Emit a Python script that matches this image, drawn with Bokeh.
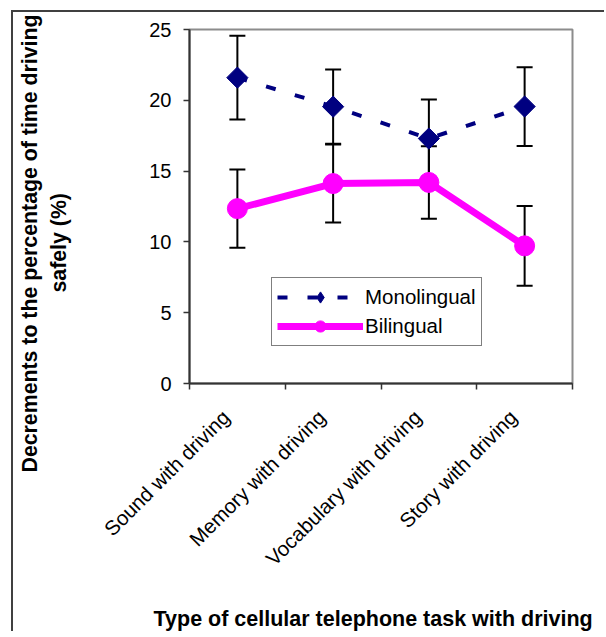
import math
from bokeh.plotting import figure
from bokeh.models import (ColumnDataSource, Whisker, TeeHead, Legend, LegendItem,
                          Title, Range1d, FixedTicker)
from bokeh.embed import file_html
from bokeh.resources import INLINE

# ---- data ----
categories = ["Sound with driving", "Memory with driving",
              "Vocabulary with driving", "Story with driving"]
mono = [21.6, 19.55, 17.3, 19.56]
mono_err = [2.95, 2.62, 2.75, 2.78]
bil = [12.35, 14.12, 14.2, 9.72]
bil_err = [2.77, 2.75, 2.56, 2.82]
y_ticks = [0, 5, 10, 15, 20, 25]
y_title_1 = "Decrements to the percentage of time driving"
y_title_2 = "safely (%)"
x_title = "Type of cellular telephone task with driving"

FONT = "Liberation Sans"

xs = [i + 0.5 for i in range(len(categories))]
mono_src = ColumnDataSource(dict(x=xs, y=mono,
                                 upper=[m + e for m, e in zip(mono, mono_err)],
                                 lower=[m - e for m, e in zip(mono, mono_err)]))
bil_src = ColumnDataSource(dict(x=xs, y=bil,
                                upper=[b + e for b, e in zip(bil, bil_err)],
                                lower=[b - e for b, e in zip(bil, bil_err)]))

p = figure(width=593, height=621, output_backend="svg", toolbar_location=None,
           x_range=Range1d(0, len(categories)), y_range=Range1d(0, 25),
           min_border_left=173, min_border_right=34, min_border_top=17,
           min_border_bottom=250)
p.styles = {"border-top": "2px solid #404040", "border-left": "2px solid #404040",
            "margin-left": "11px", "margin-top": "10px"}
p.grid.visible = False
p.background_fill_color = "white"
p.border_fill_color = "white"
p.outline_line_color = "#8c8c8c"
p.outline_line_width = 2

# y axis
p.yaxis.ticker = FixedTicker(ticks=y_ticks)
p.yaxis.axis_line_color = "#333333"
p.yaxis.axis_line_width = 2
p.yaxis.major_tick_out = 6
p.yaxis.major_tick_in = 0
p.yaxis.major_tick_line_color = "#333333"
p.yaxis.major_tick_line_width = 1.5
p.yaxis.minor_tick_line_color = None
p.yaxis.major_label_standoff = 12
p.yaxis.major_label_text_font = FONT
p.yaxis.major_label_text_font_size = "20px"
p.yaxis.major_label_text_color = "black"

# x axis: labels at category centres (nudged so the rotated text ends under the centre),
# tick marks at category boundaries
label_pos = [x - 0.12 for x in xs]
p.xaxis.ticker = FixedTicker(ticks=label_pos, minor_ticks=list(range(len(categories) + 1)))
p.xaxis.major_label_overrides = {x: c for x, c in zip(label_pos, categories)}
p.xaxis.major_label_orientation = math.pi / 4
p.xaxis.axis_line_color = "#333333"
p.xaxis.axis_line_width = 2
p.xaxis.major_tick_line_color = None
p.xaxis.major_tick_out = 6
p.xaxis.major_tick_in = 0
p.xaxis.minor_tick_out = 6
p.xaxis.minor_tick_in = 0
p.xaxis.minor_tick_line_color = "#333333"
p.xaxis.minor_tick_line_width = 1.5
p.xaxis.major_label_standoff = 24
p.xaxis.major_label_text_font = FONT
p.xaxis.major_label_text_font_size = "20.5px"
p.xaxis.major_label_text_color = "black"

# error bars
for src in (mono_src, bil_src):
    w = Whisker(source=src, base="x", upper="upper", lower="lower",
                dimension="height", line_color="black", line_width=2,
                upper_head=TeeHead(size=16, line_width=2, line_color="black"),
                lower_head=TeeHead(size=16, line_width=2, line_color="black"))
    p.add_layout(w)

# series
navy = "#000080"
magenta = "#FF00FF"
mono_line = p.line("x", "y", source=mono_src, line_color=navy, line_width=4,
                   line_dash="10 20")
p.scatter("x", "y", source=mono_src, marker="square", angle=math.pi / 4, size=15,
          fill_color=navy, line_color=navy)
mono_leg = p.scatter("x", "y", source=mono_src, marker="diamond", size=0,
                     fill_color=navy, line_color=navy)
bil_line = p.line("x", "y", source=bil_src, line_color=magenta, line_width=7)
bil_pts = p.scatter("x", "y", source=bil_src, marker="circle", size=20,
                    fill_color=magenta, line_color=magenta)

legend = Legend(items=[LegendItem(label="Monolingual", renderers=[mono_line, mono_leg]),
                       LegendItem(label="Bilingual", renderers=[bil_line, bil_pts])],
                location=(82, 37), glyph_width=86, glyph_height=28, label_height=28,
                label_standoff=2, padding=5, spacing=1, margin=0,
                border_line_color="black", border_line_width=1,
                label_text_font=FONT, label_text_font_size="20.5px",
                label_text_baseline="alphabetic",
                label_text_color="black", background_fill_alpha=1)
p.add_layout(legend)

# axis titles (titles in side panels, with tiny spacer titles)
def spacer(standoff):
    return Title(text=" ", text_font_size="1px", standoff=standoff)

def title(text, align, offset, standoff, valign, size):
    return Title(text=text, align=align, offset=offset, standoff=standoff,
                 vertical_align=valign, text_font=FONT, text_font_style="bold",
                 text_font_size=size, text_color="black")

p.add_layout(spacer(72), "left")
p.add_layout(title(y_title_2, "left", 91, 0, "middle", "21.3px"), "left")
p.add_layout(title(y_title_1, "left", -89, 6, "middle", "21.3px"), "left")

p.add_layout(spacer(20), "below")
p.add_layout(title(x_title, "left", -36, 0, "bottom", "21.5px"), "below")

open("out.html", "w").write(file_html(p, INLINE))
